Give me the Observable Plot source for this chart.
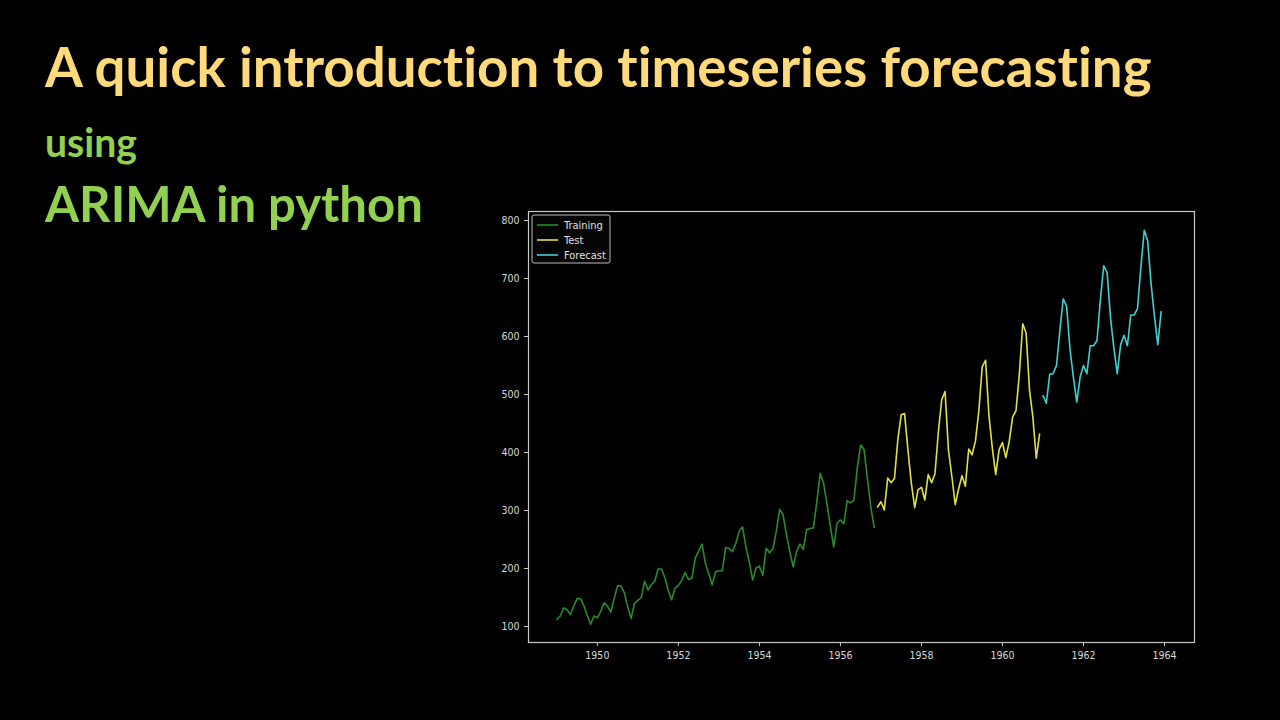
<!DOCTYPE html>
<html>
<head>
<meta charset="utf-8">
<script src="https://cdn.jsdelivr.net/npm/d3@7"></script>
<script src="https://cdn.jsdelivr.net/npm/@observablehq/plot@0.6"></script>
<style>
  html, body { margin: 0; padding: 0; background: #000; width: 1280px; height: 720px; overflow: hidden; }
  #plot { position: absolute; left: 470px; top: 195px; }
  #overlay { position: absolute; left: 0; top: 0; pointer-events: none; font-variant-ligatures: none; }
  #overlay text { font-variant-ligatures: none; font-feature-settings: "liga" 0, "clig" 0; }
</style>
</head>
<body>
<div id="plot"></div>
<svg id="overlay" width="1280" height="720"></svg>
<script>
// ---- Data (AirPassengers, monthly) ----
const titleText = "A quick introduction to timeseries forecasting";
const subtitleText = "using";
const subtitle2Text = "ARIMA in python";

const seriesNames = ["Training", "Test", "Forecast"];
const seriesColors = ["#2b8a2b", "#e0e048", "#3fd0d2"];

// Training: Jan 1949 .. Nov 1956
const trainingStart = [1949, 0];
const trainingValues = [
  112,118,132,129,121,135,148,148,136,119,104,118,
  115,126,141,135,125,149,170,170,158,133,114,140,
  145,150,178,163,172,178,199,199,184,162,146,166,
  171,180,193,181,183,218,230,242,209,191,172,194,
  196,196,236,235,229,243,264,272,237,211,180,201,
  204,188,235,227,234,264,302,293,259,229,203,229,
  242,233,267,269,270,315,364,347,312,274,237,278,
  284,277,317,313,318,374,413,405,355,306,271
];
// Test: Dec 1956 .. Dec 1960
const testStart = [1956, 11];
const testValues = [
  306,
  315,301,356,348,355,422,465,467,404,347,305,336,
  340,318,362,348,363,435,491,505,404,359,310,337,
  360,342,406,396,420,472,548,559,463,407,362,405,
  417,391,419,461,472,535,622,606,508,461,390,432
];
// Forecast: Jan 1961 .. Dec 1963
const forecastStart = [1961, 0];
const forecastValues = [
  498,485,535,536,550,610,665,652,578,530,487,530,
  550,536,584,584,593,664,722,710,632,580,536,586,
  602,584,637,637,648,720,783,765,692,636,586,643
];

const xTicks = [1950, 1952, 1954, 1956, 1958, 1960, 1962, 1964];
const yTicks = [100, 200, 300, 400, 500, 600, 700, 800];

function toRows(start, values, name) {
  return values.map((v, i) => ({ t: start[0] + (start[1] + i) / 12, v, name }));
}
const rows = [
  toRows(trainingStart, trainingValues, seriesNames[0]),
  toRows(testStart, testValues, seriesNames[1]),
  toRows(forecastStart, forecastValues, seriesNames[2])
];

const tickFont = "'Liberation Sans Narrow', 'DejaVu Sans Condensed', sans-serif";

const chart = Plot.plot({
  width: 740,
  height: 480,
  marginLeft: 58,
  marginRight: 16,
  marginTop: 16,
  marginBottom: 33,
  style: { background: "transparent", color: "#d8d8d8", fontFamily: tickFont, fontSize: "10.5px" },
  x: { domain: [1948.30, 1964.74], ticks: xTicks, tickFormat: d => String(d), label: null, tickSize: 4, tickPadding: 4 },
  y: { domain: [72.4, 815.5], ticks: yTicks, label: null, tickSize: 4, tickPadding: 3 },
  marks: [
    Plot.axisX({ticks: xTicks, tickFormat: d => String(d), stroke: "#cfcfcf", fill: "#d8d8d8", label: null, tickSize: 4}),
    Plot.axisY({ticks: yTicks, stroke: "#cfcfcf", fill: "#d8d8d8", label: null, tickSize: 4}),
    ...rows.map((r, i) => Plot.line(r, { x: "t", y: "v", stroke: seriesColors[i], strokeWidth: 1.6 })),
    Plot.frame({ stroke: "#c8c8c8", strokeWidth: 1.2 })
  ]
});
document.getElementById("plot").appendChild(chart);

// ---- Headings and legend (real text) ----
const svg = d3.select("#overlay");
function fitText(sel, target) {
  const node = sel.node();
  const w = node.getComputedTextLength();
  const fs = parseFloat(sel.attr("font-size"));
  sel.attr("font-size", fs * target / w);
}
const headFont = "Lato, 'Open Sans', sans-serif";
const t1 = svg.append("text").attr("x", 45).attr("y", 87).attr("fill", "#ffd97a")
  .attr("font-family", headFont).attr("font-weight", 700).attr("font-size", 50).text(titleText);
fitText(t1, 1107);
const t2 = svg.append("text").attr("x", 45).attr("y", 157).attr("fill", "#92d050")
  .attr("font-family", headFont).attr("font-weight", 700).attr("font-size", 36).text(subtitleText);
fitText(t2, 92);
const t3 = svg.append("text").attr("x", 45).attr("y", 222).attr("fill", "#92d050")
  .attr("font-family", headFont).attr("font-weight", 700).attr("font-size", 48).text(subtitle2Text);
fitText(t3, 378);

// legend
const lg = svg.append("g").attr("transform", "translate(532,215)");
lg.append("rect").attr("width", 78).attr("height", 48).attr("rx", 2)
  .attr("fill", "#050505").attr("stroke", "#bdbdbd").attr("stroke-width", 1);
seriesNames.forEach((n, i) => {
  const y = 10 + i * 15;
  lg.append("line").attr("x1", 5).attr("x2", 26).attr("y1", y).attr("y2", y)
    .attr("stroke", seriesColors[i]).attr("stroke-width", 1.6);
  lg.append("text").attr("x", 32).attr("y", y + 3.8).attr("fill", "#e0e0e0")
    .attr("font-family", tickFont).attr("font-size", 11).text(n);
});
</script>
</body>
</html>
